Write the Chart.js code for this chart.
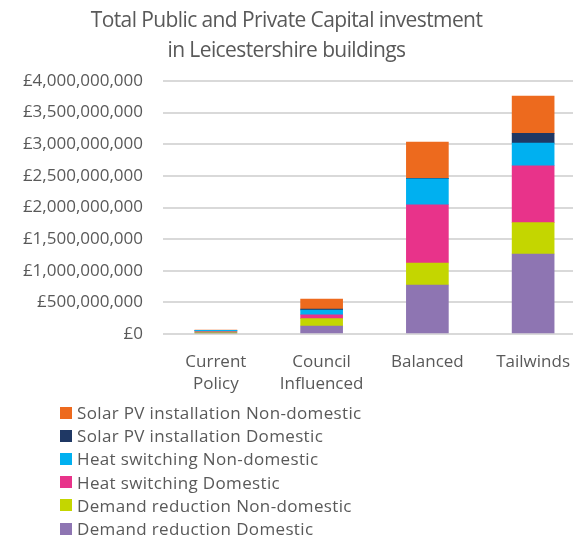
<!DOCTYPE html>
<html>
<head>
<meta charset="utf-8">
<script src="https://cdn.jsdelivr.net/npm/chart.js@4.4.0/dist/chart.umd.min.js"></script>
<style>
    html, body { margin: 0; padding: 0; width: 573px; height: 538px; overflow: hidden; background: #fff; }
    body { font-family: "Open Sans", sans-serif; color: #595959; position: relative; }
    #title { position: absolute; left: 0; top: 4px; width: 573px; text-align: center; font-size: 21px; line-height: 30px; letter-spacing: -0.6px; z-index: 2; }
    #chart { position: absolute; left: 0; top: 0; }
    #legend { position: absolute; left: 60px; top: 401px; font-size: 17px; letter-spacing: 0.35px; z-index: 2; }
    .item { display: flex; align-items: center; height: 23.2px; white-space: nowrap; }
    .box { width: 12px; height: 12px; margin-right: 5px; flex: none; }
</style>
</head>
<body>
<div id="title">Total Public and Private Capital investment<br>in Leicestershire buildings</div>
<canvas id="chart" width="590" height="538"></canvas>
<div id="legend"></div>
<script>
// Scenarios (x axis)
const scenarios = [['Current', 'Policy'], ['Council', 'Influenced'], 'Balanced', 'Tailwinds'];

// Investment in £ (stacked bottom to top)
const demandDomestic = [18000000, 126000000, 775000000, 1265000000];
const demandNonDomestic = [14000000, 116000000, 348000000, 495000000];
const heatDomestic = [8000000, 63000000, 921000000, 900000000];
const heatNonDomestic = [18000000, 74000000, 411000000, 359000000];
const solarDomestic = [2000000, 16000000, 5000000, 153000000];
const solarNonDomestic = [2000000, 158000000, 576000000, 590000000];

const seriesNames = [
    'Demand reduction Domestic',
    'Demand reduction Non-domestic',
    'Heat switching Domestic',
    'Heat switching Non-domestic',
    'Solar PV installation Domestic',
    'Solar PV installation Non-domestic'
];
const seriesColors = ['#8E75B2', '#C4D600', '#E8338A', '#00B0F0', '#1F3864', '#ED6A1E'];
const seriesValues = [demandDomestic, demandNonDomestic, heatDomestic, heatNonDomestic, solarDomestic, solarNonDomestic];

const yTicks = { min: 0, max: 4000000000, step: 500000000 };

const textColor = '#595959';
const font = { family: '"Open Sans", sans-serif', size: 17 };

new Chart(document.getElementById('chart'), {
    type: 'bar',
    data: {
        labels: scenarios,
        datasets: seriesNames.map((name, i) => ({
            label: name,
            data: seriesValues[i],
            backgroundColor: seriesColors[i],
            borderWidth: 0,
            barThickness: 42
        }))
    },
    options: {
        responsive: false,
        devicePixelRatio: 1,
        animation: false,
        layout: { padding: { top: 81, bottom: 144, left: 0, right: 4 } },
        plugins: {
            legend: { display: false },
            title: { display: false },
            tooltip: { enabled: false }
        },
        scales: {
            x: {
                stacked: true,
                grid: { display: false, drawTicks: false },
                border: { display: false },
                ticks: { color: textColor, font: { ...font, lineHeight: 1.25 }, padding: 18, maxRotation: 0 },
                afterFit: (scale) => { scale.height = 60; }
            },
            y: {
                stacked: true,
                min: yTicks.min,
                max: yTicks.max,
                grid: { color: '#d9d9d9', lineWidth: 2, drawTicks: false },
                border: { display: false },
                ticks: {
                    stepSize: yTicks.step,
                    color: textColor,
                    font: font,
                    padding: 20,
                    callback: (v) => '£' + Number(v).toLocaleString('en-GB')
                },
                afterFit: (scale) => { scale.width = 163; }
            }
        }
    }
});

// Legend, listed top of stack first
const legend = document.getElementById('legend');
for (let i = seriesNames.length - 1; i >= 0; i--) {
    const item = document.createElement('div');
    item.className = 'item';
    const box = document.createElement('span');
    box.className = 'box';
    box.style.background = seriesColors[i];
    const label = document.createElement('span');
    label.textContent = seriesNames[i];
    item.appendChild(box);
    item.appendChild(label);
    legend.appendChild(item);
}
</script>
</body>
</html>
